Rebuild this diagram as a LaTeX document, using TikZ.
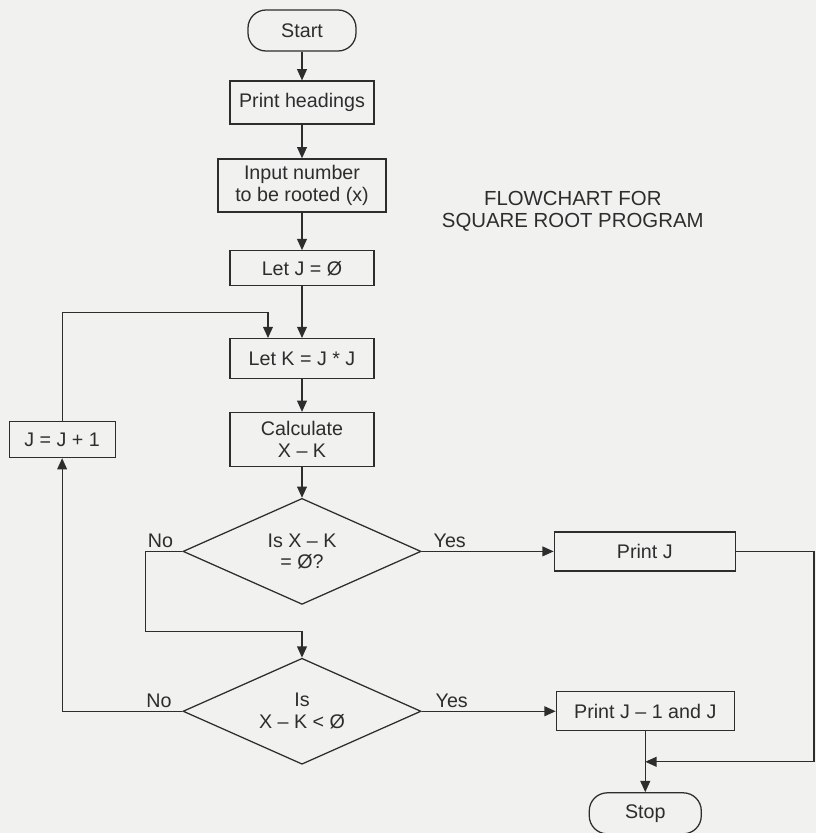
\documentclass[tikz,border=0pt]{standalone}
\usepackage{fontspec}
\setmainfont{Liberation Sans}
\usetikzlibrary{positioning}
\usetikzlibrary{calc}
\usetikzlibrary{shapes.geometric}
\usetikzlibrary{arrows.meta}
\definecolor{paper}{RGB}{241,241,240}
\definecolor{ink}{RGB}{45,45,45}
\tikzset{
  box/.style      = { rectangle, draw=ink, inner sep=0pt, align=center },
  terminal/.style = { box, rounded corners=4.5mm, minimum width=2.7cm, minimum height=1.025cm },
  process/.style  = { box, minimum width=3.6cm },
  decision/.style = { diamond, draw=ink, aspect=2.2, inner sep=0pt, align=center,
                      minimum width=5.95cm, minimum height=2.65cm },
  lbl/.style      = { inner sep=1pt },
}
\begin{document}
\begin{tikzpicture}[
  >={Triangle[length=8pt,width=7pt]},
  line width=0.9pt,ink,text=ink,
  font=\fontsize{14}{15.5}\selectfont
]
  \fill [paper] (0,0) rectangle (20.4,-20.825);
  \useasboundingbox (0,0) rectangle (20.4,-20.825);

  \node (start) [terminal] at (7.55,-0.7625)                          {Start};
  \node (ph)    [process,below=0.72cm of start,minimum height=1.075cm] {Print headings};
  \node (input) [process,below=0.84cm of ph,minimum width=4.2cm,minimum height=1.325cm]
                                                                      {Input number\\to be rooted (x)};
  \node (letj)  [process,below=0.94cm of input,minimum height=0.875cm] {Let J = Ø};
  \node (letk)  [process,below=1.29cm of letj,minimum height=1cm]     {Let K = J * J};
  \node (calc)  [process,below=0.815cm of letk,minimum height=1.35cm] {Calculate\\X – K};
  \node (d1)    [decision,below=0.765cm of calc]                      {Is X – K\\= Ø?};
  \node (d2)    [decision,below=1.315cm of d1]                        {Is\\X – K < Ø};

  \node (printj) [process,right=3.3cm of d1,minimum width=4.525cm,minimum height=0.975cm] {Print J};
  \node (pj1)    [process,right=3.35cm of d2,minimum width=4.45cm,minimum height=0.975cm] {Print J – 1 and J};
  \node (stop)   [terminal,below=1.52cm of pj1,minimum width=2.8cm]   {Stop};
  \node (jinc)   [process,left=2.84cm of calc,minimum width=2.65cm,minimum height=0.9cm] {J = J + 1};

  \node (title) [right=1.25cm of input,yshift=-0.65cm,align=center,
                 font=\fontsize{14.5}{15.5}\selectfont] {FLOWCHART FOR\\SQUARE ROOT PROGRAM};

  \node (no1)  [lbl,above left=0.05cm and 0.18cm of d1.west]  {No};
  \node (yes1) [lbl,above right=0.05cm and 0.25cm of d1.east] {Yes};
  \node (no2)  [lbl,above left=0.05cm and 0.22cm of d2.west]  {No};
  \node (yes2) [lbl,above right=0.05cm and 0.3cm of d2.east]  {Yes};

  \coordinate (loop)  at ($(letj.south)!0.5!(letk.north)$);
  \coordinate (gap)   at ($(d1.south)!0.5!(d2.north)$);
  \coordinate (merge) at ($(pj1.south)!0.5!(stop.north)$);
  \coordinate (rim)   at (20.35,0);

  \draw [->] (start) -- (ph);
  \draw [->] (ph)    -- (input);
  \draw [->] (input) -- (letj);
  \draw [->] (letj)  -- (letk);
  \draw [->] (letk)  -- (calc);
  \draw [->] (calc)  -- (d1);
  \draw [->] (d1.east) -- (printj);
  \draw [->] (d1.west) -- ++(-0.925cm,0) |- (gap) -- (d2.north);
  \draw [->] (d2.east) -- (pj1);
  \draw [->] (d2.west) -| (jinc.south);
  \draw [->] (jinc.north) |- ([xshift=-0.85cm]loop) -- ([xshift=-0.85cm]letk.north);
  \draw [->] (pj1)   -- (stop);
  \draw [->] (printj.east) -- (printj.east -| rim) |- (merge);

\end{tikzpicture}
\end{document}
